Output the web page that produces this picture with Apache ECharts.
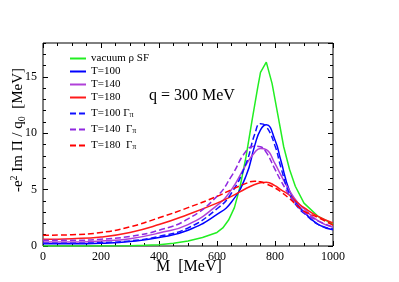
<!DOCTYPE html>
<html><head><meta charset="utf-8">
<script src="https://cdn.jsdelivr.net/npm/echarts@6/dist/echarts.min.js"></script>
<style>html,body{margin:0;padding:0;background:#fff}#c{width:399px;height:282px}</style>
</head><body><div id="c"></div>
<script>
// ---- data ----
var mVac = [0,100,200,300,350,400,450,500,550,600,620,640,660,680,700,720,740,750,770,790,810,830,850,870,900,950,1000];
var vacuum = [0,0,0.01,0.03,0.06,0.12,0.25,0.45,0.75,1.2,1.6,2.3,3.4,5.3,7.9,11.0,14.0,15.4,16.3,14.4,11.6,8.8,6.8,5.3,3.8,2.6,1.95];
var mMed = [0,100,200,300,400,500,600,650,700,730,750,770,800,820,850,880,900,950,1000];
var t100 = [0.2,0.2,0.25,0.4,0.75,1.4,2.8,3.9,6.2,8.9,10.3,10.75,9.4,7.6,4.9,3.6,3.0,1.9,1.45];
var t140 = [0.35,0.35,0.45,0.65,1.15,1.9,3.6,5.0,7.2,8.3,8.65,8.55,7.3,6.3,4.9,3.8,3.3,2.2,1.65];
var t180 = [0.6,0.65,0.8,1.2,1.9,2.8,3.8,4.4,5.1,5.45,5.6,5.65,5.35,5.0,4.5,3.8,3.4,2.6,2.05];
var t100G = [0.25,0.25,0.3,0.45,0.85,1.6,3.3,4.7,7.3,9.9,10.85,10.6,8.9,7.0,4.6,3.4,2.9,1.9,1.5];
var t140G = [0.5,0.5,0.6,0.85,1.4,2.4,4.4,6.2,8.4,8.85,8.8,8.3,6.8,5.8,4.5,3.5,3.0,2.2,1.7];
var t180G = [0.95,1.0,1.2,1.7,2.5,3.4,4.4,5.0,5.55,5.75,5.7,5.5,5.15,4.8,4.2,3.5,3.1,2.5,1.85];
var xTicks = [0,200,400,600,800,1000];
var yTicks = [0,5,10,15];
var names = ['vacuum ρ SF','T=100','T=140','T=180','T=100 Γπ','T=140  Γπ','T=180  Γπ'];

function pairs(xs, ys){ return xs.map(function(x,i){ return [x, ys[i]]; }); }
var FONT = '"Liberation Serif","DejaVu Serif",serif';

function mk(name, xs, ys, color, dashed, smooth){
  return {
    name: name, type: 'line', data: pairs(xs, ys), symbol: 'none', smooth: smooth,
    xAxisIndex: 0, yAxisIndex: 0,
    lineStyle: {color: color, width: 1.5, type: dashed ? [6,3] : 'solid'},
    itemStyle: {color: color}
  };
}

var chart = echarts.init(document.getElementById('c'), null, {renderer:'canvas'});
function axX(pos, interval, len, labels){
  return {type:'value', position:pos, min:0, max:1000, interval:interval,
    axisLine:{show:false, onZero:false},
    axisTick:{show:true, inside:true, length:len, lineStyle:{color:'#000'}},
    axisLabel:{show:labels, margin:5, fontFamily:FONT, fontSize:12, color:'#000',
      formatter:function(v){ return xTicks.indexOf(v)>=0 ? String(v) : ''; }},
    splitLine:{show:false}};
}
function axY(pos, interval, len, labels){
  return {type:'value', position:pos, min:0, max:18, interval:interval,
    axisLine:{show:false, onZero:false},
    axisTick:{show:true, inside:true, length:len, lineStyle:{color:'#000'}},
    axisLabel:{show:labels, margin:6, fontFamily:FONT, fontSize:12, color:'#000', showMaxLabel:false,
      formatter:function(v){ return yTicks.indexOf(v)>=0 ? String(v) : ''; }},
    splitLine:{show:false}};
}

chart.setOption({
  animation:false,
  backgroundColor:'#fff',
  grid:{left:43, right:66, top:43, bottom:36, show:true, borderColor:'#000', borderWidth:1, backgroundColor:'transparent'},
  xAxis:[axX('bottom',200,5,true), axX('bottom',50,3,false), axX('top',200,5,false), axX('top',50,3,false)],
  yAxis:[axY('left',5,5,true), axY('left',1,3,false), axY('right',5,5,false), axY('right',1,3,false)],
  legend:{
    orient:'vertical', left:64, top:48, itemWidth:16, itemHeight:8, itemGap:2,
    data:names,
    itemStyle:{opacity:0},
    textStyle:{fontFamily:FONT, fontSize:11, color:'#000', lineHeight:11,
      rich:{g:{fontFamily:FONT, fontSize:11, color:'#000', lineHeight:11}, p:{fontFamily:FONT, fontSize:8, color:'#000', verticalAlign:'bottom', lineHeight:8, padding:[6,0,0,0]}}},
    formatter:function(n){ return n.replace('Γπ','{g|Γ}{p|π}'); }
  },
  graphic:[
    {type:'text', left:149, top:88, style:{text:'q = 300 MeV', font:'16px '+FONT, fill:'#000'}},
    {type:'text', left:156, top:259, style:{text:'M  [MeV]', font:'16px '+FONT, fill:'#000'}},
    {type:'text', x:18, y:130, rotation:Math.PI/2,
      style:{text:'{a|-e}{s|2}{a| Im Π / q}{b|0}{a|  [MeV]}', align:'center', verticalAlign:'middle', fill:'#000',
        rich:{a:{fontFamily:FONT, fontSize:15, color:'#000'},
              s:{fontFamily:FONT, fontSize:10, color:'#000', verticalAlign:'top', padding:[0,0,8,0]},
              b:{fontFamily:FONT, fontSize:10, color:'#000', verticalAlign:'bottom', padding:[6,0,0,0]}}}}
  ],
  series:[
    mk(names[0], mVac, vacuum, '#22ee22', false, false),
    mk(names[1], mMed, t100, '#0000ff', false, true),
    mk(names[2], mMed, t140, '#b040d8', false, true),
    mk(names[3], mMed, t180, '#ff1a1a', false, true),
    mk(names[4], mMed, t100G, '#1010ff', true, true),
    mk(names[5], mMed, t140G, '#9028e0', true, true),
    mk(names[6], mMed, t180G, '#ff0000', true, true)
  ]
});
</script></body></html>
